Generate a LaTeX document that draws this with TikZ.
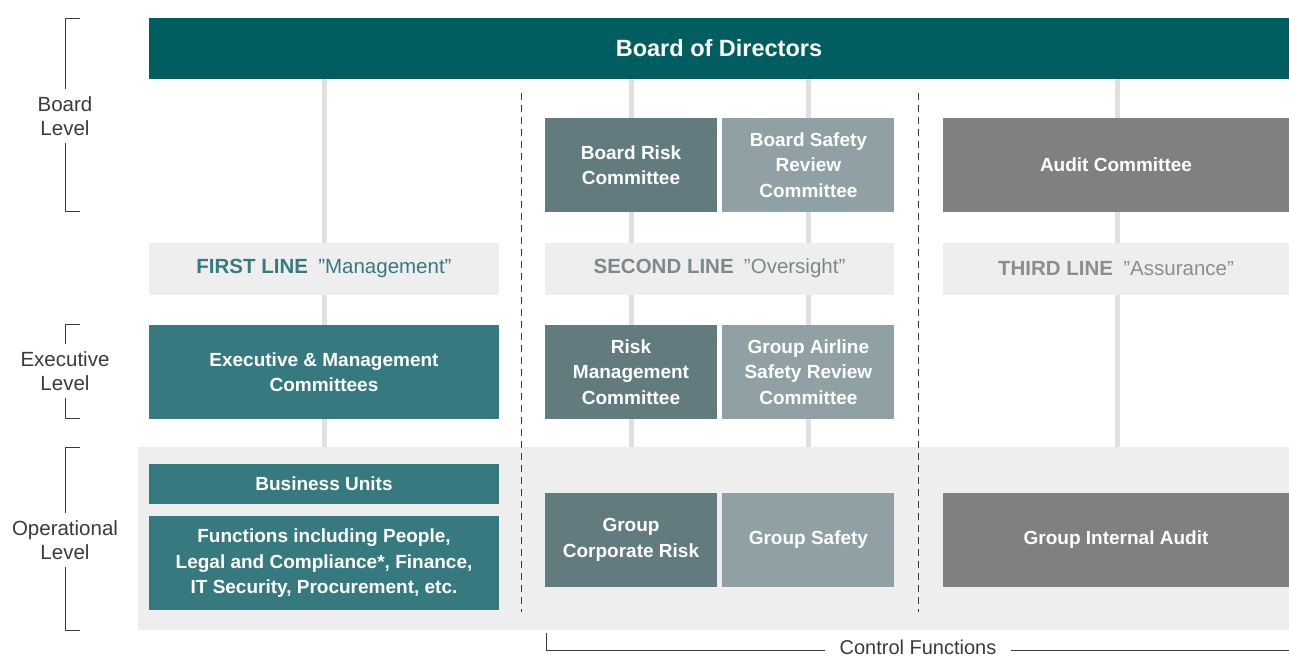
\documentclass[tikz,border=0pt]{standalone}
\usepackage{fontspec}
\setmainfont{Liberation Sans}
\usetikzlibrary{positioning}

\definecolor{boardteal}{HTML}{005E61}
\definecolor{firstteal}{HTML}{367A7F}
\definecolor{secslate}{HTML}{627B7F}
\definecolor{secpale}{HTML}{8FA1A4}
\definecolor{thirdgrey}{HTML}{808080}
\definecolor{bandgrey}{HTML}{EEEEEE}
\definecolor{inkgrey}{HTML}{3A3A3A}

\tikzset{
  unitbox/.style={draw=none, inner sep=0pt, align=center, text=white,
    font=\fontsize{19}{25.5}\selectfont\bfseries},
  firstbox/.style={unitbox, fill=firstteal},
  secbox/.style={unitbox, fill=secslate, minimum width=172pt, minimum height=94pt},
  palebox/.style={unitbox, fill=secpale, minimum width=172pt, minimum height=94pt},
  thirdbox/.style={unitbox, fill=thirdgrey, minimum width=346pt, minimum height=94pt},
  linehead/.style={fill=bandgrey, inner sep=0pt, minimum height=52pt,
    font=\fontsize{20.5}{24}\selectfont},
  spine/.style={draw=bandgrey!90!black!60!bandgrey, line width=5pt},
  divider/.style={draw=inkgrey, line width=1pt, dash pattern=on 7pt off 5pt},
  levelbrace/.style={draw=inkgrey, line width=0.9pt},
  levellabel/.style={align=center, text=inkgrey, inner xsep=0pt, inner ysep=7pt,
    font=\fontsize{20.5}{24}\selectfont},
}

\begin{document}
\begin{tikzpicture}[x=1pt,y=-1pt]
\useasboundingbox (0,0) rectangle (1289,657);

%Shape: background of the operational level
\fill[bandgrey] (138,447) rectangle (1289,630);

%Shape: spines behind the boxes
\foreach \sx in {324,631,808,1117}
  \draw[spine] (\sx,79) -- (\sx,447);

%Shape: dashed dividers between the lines
\draw[divider] (521,93) -- (521,612);
\draw[divider] (918,93) -- (918,612);

% Board
\node[unitbox, fill=boardteal, minimum width=1140pt, minimum height=61pt,
  font=\fontsize{23.5}{28}\selectfont\bfseries] (board) at (719,48.5) {Board of Directors};

% Board level committees
\node[secbox] (brc) at (631,165) {Board Risk\\Committee};
\node[palebox, right=5pt of brc] (bsrc) {Board Safety\\Review\\Committee};
\node[thirdbox] (audit) at (1116,165) {Audit Committee};

% Line headers
\node[linehead, minimum width=350pt] (first) at (324,268.5)
  {\textcolor{firstteal}{\bfseries FIRST LINE}\enspace\textcolor{firstteal}{"Management"}};
\node[linehead, minimum width=349pt] (second) at (719.5,268.5)
  {\textcolor{secpale!85!black}{\bfseries SECOND LINE}\enspace\textcolor{secpale!85!black}{"Oversight"}};
\node[linehead, minimum width=346pt] (third) at (1116,268.5)
  {\textcolor{thirdgrey!90}{\bfseries THIRD LINE}\enspace\textcolor{thirdgrey!90}{"Assurance"}};

% Executive level
\node[firstbox, minimum width=350pt, minimum height=94pt] (exec) at (324,372)
  {Executive \& Management\\Committees};
\node[secbox] (rmc) at (631,372) {Risk\\Management\\Committee};
\node[palebox, right=5pt of rmc] (gasrc) {Group Airline\\Safety Review\\Committee};

% Operational level
\node[firstbox, minimum width=350pt, minimum height=40pt] (bu) at (324,484) {Business Units};
\node[firstbox, minimum width=350pt, minimum height=94pt, below=12pt of bu] (func)
  {Functions including People,\\Legal and Compliance*, Finance,\\IT Security, Procurement, etc.};
\node[secbox] (gcr) at (631,540) {Group\\Corporate Risk};
\node[palebox, right=5pt of gcr] (gs) {Group Safety};
\node[thirdbox] (gia) at (1116,540) {Group Internal Audit};

% Level labels with brackets
\node[levellabel] (lvboard) at (65,116) {Board\\Level};
\draw[levelbrace] (lvboard.north) -- (65,18) -- (80,18);
\draw[levelbrace] (lvboard.south) -- (65,211) -- (80,211);

\node[levellabel] (lvexec) at (65,371) {Executive\\Level};
\draw[levelbrace] (lvexec.north) -- (65,324) -- (80,324);
\draw[levelbrace] (lvexec.south) -- (65,418) -- (80,418);

\node[levellabel] (lvops) at (65,540) {Operational\\Level};
\draw[levelbrace] (lvops.north) -- (65,447) -- (80,447);
\draw[levelbrace] (lvops.south) -- (65,630) -- (80,630);

% Control functions
\node[text=inkgrey, inner xsep=14pt, font=\fontsize{20}{22}\selectfont] (ctrl) at (918,647) {Control Functions};
\draw[levelbrace] (546,633) -- (546,650) -- (ctrl.west |- 0,650);
\draw[levelbrace] (ctrl.east |- 0,650) -- (1289,650);

\end{tikzpicture}
\end{document}
